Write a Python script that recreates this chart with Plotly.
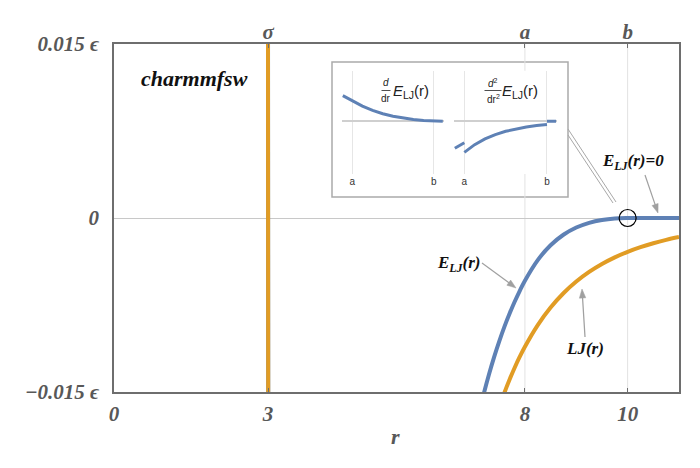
import math
import plotly.graph_objects as go

# ---------------- data ----------------
# Lennard-Jones curve LJ(r): steep crossing near sigma, then the tail
lj_r = [2.996, 3.0, 3.004, None,
        7.5, 7.6, 7.7, 7.8, 7.9, 8.0, 8.25, 8.5, 8.75, 9.0, 9.25, 9.5, 9.75,
        10.0, 10.25, 10.5, 10.75, 11.0]
lj_v = [0.0324, 0.0, -0.0316, None,
        -0.016317, -0.015075, -0.013942, -0.012906, -0.011960, -0.011093,
        -0.009227, -0.007717, -0.006487, -0.005479, -0.004650, -0.003963,
        -0.003392, -0.002914, -0.002513, -0.002175, -0.001889, -0.001645]

# force-switched potential E_LJ(r)
e_r = [2.996, 3.0, 3.004, None,
       7.1, 7.2, 7.3, 7.4, 7.5, 7.6, 7.7, 7.8, 7.9, 8.0, 8.25, 8.5, 8.75,
       9.0, 9.25, 9.5, 9.75, 10.0, 10.5, 11.0]
e_v = [0.0381, 0.0057, -0.0259, None,
       -0.016946, -0.015134, -0.013489, -0.011992, -0.010630, -0.009388,
       -0.008255, -0.007219, -0.006272, -0.005406, -0.003630, -0.002351,
       -0.001446, -0.000824, -0.000414, -0.000165, -0.000037, 0.0, 0.0, 0.0]

# inset 1: first derivative
d1_r = [7.77, 7.85, 7.92, 8.0, 8.25, 8.5, 8.75, 9.0, 9.25, 9.5, 9.75,
        10.0, 10.1, 10.22]
d1_v = [0.010165, 0.009465, 0.008898, 0.008296, 0.006015, 0.004298,
        0.003003, 0.002025, 0.001287, 0.000730, 0.000312, 0.0, 0.0, 0.0]

# inset 2: second derivative (discontinuous at a and b)
d2_r = [7.77, 7.85, 7.92, 8.0, None,
        8.0, 8.25, 8.5, 8.75, 9.0, 9.25, 9.5, 9.75, 10.0, None,
        10.0, 10.1, 10.22]
d2_v = [-0.009105, -0.008395, -0.007824, -0.007225, None,
        -0.010494, -0.00788, -0.00594, -0.00448, -0.00338, -0.00255,
        -0.00192, -0.00144, -0.00107, None,
        0.0, 0.0, 0.0]

bottom_tick_vals = [0, 3, 8, 10]
bottom_tick_text = ["0", "3", "8", "10"]
top_tick_vals = [3, 8, 10]
top_tick_text = ["σ", "a", "b"]
left_tick_vals = [-0.015, 0, 0.015]
left_tick_text = ["−0.015 ϵ", "0", "0.015 ϵ"]
inset_tick_vals = [8, 10]
inset_tick_text = ["a", "b"]

# ---------------- layout helpers ----------------
# The page body has an 8px margin, so the figure is drawn offset by 8px.
OFF = 8
W, H = 700, 468
# target plot area on screen: x 114..679, y 44..392
L = 114 - OFF
T = 44 - OFF
R = W - (679 - OFF)
B = H - (392 - OFF)
PW, PH = W - L - R, H - T - B


def fx(p):
    """screen x pixel -> paper fraction"""
    return (p - OFF - L) / PW


def fy(p):
    """screen y pixel -> paper fraction"""
    return (H - B - (p - OFF)) / PH


BLUE = "#5E81B5"
ORANGE = "#E19C24"
GRAY_TXT = "#585858"
FRAME = "#6e6e6e"
ARROW = "#a0a0a0"
SERIF = "Liberation Serif"
SANS = "Liberation Sans"

fig = go.Figure()

fig.add_trace(go.Scatter(x=e_r, y=e_v, mode="lines", line=dict(color=BLUE, width=4, shape="spline"),
                         connectgaps=False, hoverinfo="skip", showlegend=False))
fig.add_trace(go.Scatter(x=lj_r, y=lj_v, mode="lines", line=dict(color=ORANGE, width=4, shape="spline"),
                         connectgaps=False, hoverinfo="skip", showlegend=False))
# invisible trace for the top axis
fig.add_trace(go.Scatter(x=top_tick_vals, y=[0] * len(top_tick_vals), xaxis="x4", yaxis="y",
                         mode="markers", marker=dict(opacity=0), hoverinfo="skip", showlegend=False))
# insets
fig.add_trace(go.Scatter(x=d1_r, y=d1_v, xaxis="x2", yaxis="y2", mode="lines",
                         line=dict(color=BLUE, width=3), hoverinfo="skip", showlegend=False))
fig.add_trace(go.Scatter(x=d2_r, y=d2_v, xaxis="x3", yaxis="y3", mode="lines", connectgaps=False,
                         line=dict(color=BLUE, width=3), hoverinfo="skip", showlegend=False))

tick_font = dict(family=SERIF, size=21, color=GRAY_TXT)

fig.update_layout(
    width=W, height=H,
    margin=dict(l=L, r=R, t=T, b=B, pad=0),
    paper_bgcolor="white", plot_bgcolor="white",
    xaxis=dict(range=[0, 11], domain=[0, 1], anchor="y",
               tickvals=bottom_tick_vals,
               ticktext=[f"<b><i>{t}</i></b>" for t in bottom_tick_text],
               tickfont=tick_font, ticks="inside", ticklen=4, tickcolor=FRAME,
               showline=True, mirror=True, linecolor=FRAME, linewidth=1.5,
               showgrid=False, zeroline=False, ticklabelstandoff=2),
    xaxis4=dict(range=[0, 11], overlaying="x", side="top", anchor="y",
                tickvals=top_tick_vals,
                ticktext=[f"<b><i>{t}</i></b>" for t in top_tick_text],
                tickfont=tick_font, ticks="inside", ticklen=4, tickcolor=FRAME,
                showline=False, showgrid=False, zeroline=False),
    yaxis=dict(range=[-0.015, 0.015], domain=[0, 1], anchor="x",
               tickvals=left_tick_vals,
               ticktext=[f"<b><i>{t}</i></b>" for t in left_tick_text],
               tickfont=tick_font, ticks="", showline=True, mirror=True,
               linecolor=FRAME, linewidth=1.5, showgrid=False,
               zeroline=True, zerolinecolor="#c8c8c8", zerolinewidth=1,
               ticklabelstandoff=9),
    xaxis2=dict(range=[7.75, 10.25], domain=[fx(342), fx(444)], anchor="y2",
                tickvals=inset_tick_vals, ticktext=inset_tick_text,
                tickfont=dict(family=SANS, size=10, color="#333"), ticks="",
                showgrid=True, gridcolor="#e6e6e6", gridwidth=1,
                showline=False, zeroline=False),
    yaxis2=dict(range=[-0.0208, 0.0200], domain=[fy(174), fy(70.7)], anchor="x2",
                showticklabels=False, showgrid=False, showline=False,
                zeroline=True, zerolinecolor="#cfcfcf", zerolinewidth=1.5),
    xaxis3=dict(range=[7.75, 10.25], domain=[fx(454), fx(557.3)], anchor="y3",
                tickvals=inset_tick_vals, ticktext=inset_tick_text,
                tickfont=dict(family=SANS, size=10, color="#333"), ticks="",
                showgrid=True, gridcolor="#e6e6e6", gridwidth=1,
                showline=False, zeroline=False),
    yaxis3=dict(range=[-0.0178, 0.0171], domain=[fy(174), fy(70.7)], anchor="x3",
                showticklabels=False, showgrid=False, showline=False,
                zeroline=True, zerolinecolor="#cfcfcf", zerolinewidth=1.5),
)

shapes = []
# vertical reference lines at a and b in the main plot
for xv in [8, 10]:
    shapes.append(dict(type="line", xref="x", yref="y", x0=xv, x1=xv, y0=-0.015, y1=0.015,
                       line=dict(color="#e2e2e2", width=1), layer="below"))
# inset frame
shapes.append(dict(type="rect", xref="paper", yref="paper", x0=fx(332), x1=fx(568),
                   y0=fy(197), y1=fy(62), fillcolor="white",
                   line=dict(color="#ababab", width=1.5), layer="below"))
# leader lines from inset to circle
shapes.append(dict(type="line", xref="paper", yref="paper", x0=fx(568), y0=fy(129),
                   x1=fx(616), y1=fy(202), line=dict(color="#a8a8a8", width=1)))
shapes.append(dict(type="line", xref="paper", yref="paper", x0=fx(568), y0=fy(135),
                   x1=fx(613), y1=fy(203), line=dict(color="#a8a8a8", width=1)))
# circle around r=b
shapes.append(dict(type="circle", xref="x", yref="y", xsizemode="pixel", ysizemode="pixel",
                   xanchor=10, yanchor=0, x0=-8.5, x1=8.5, y0=-8.5, y1=8.5,
                   line=dict(color="black", width=1.2)))
# fraction bars in inset titles
shapes.append(dict(type="line", xref="paper", yref="paper", x0=fx(381.5), x1=fx(390.5),
                   y0=fy(90.5), y1=fy(90.5), line=dict(color="#222", width=0.8)))
shapes.append(dict(type="line", xref="paper", yref="paper", x0=fx(484.5), x1=fx(501.5),
                   y0=fy(90.5), y1=fy(90.5), line=dict(color="#222", width=0.8)))


def arrow(tx, ty, hx, hy, head_len=9.0, head_half=3.2):
    """gray pointer line with a filled triangular head (screen pixel coords)"""
    dx, dy = hx - tx, hy - ty
    n = math.hypot(dx, dy)
    ux, uy = dx / n, dy / n
    bx, by = hx - ux * head_len, hy - uy * head_len
    px_, py_ = -uy, ux
    shapes.append(dict(type="line", xref="paper", yref="paper",
                       x0=fx(tx), y0=fy(ty), x1=fx(bx + ux * 1.5), y1=fy(by + uy * 1.5),
                       line=dict(color=ARROW, width=1.2)))
    p1 = (bx + px_ * head_half, by + py_ * head_half)
    p2 = (bx - px_ * head_half, by - py_ * head_half)
    path = (f"M {fx(hx)} {fy(hy)} L {fx(p1[0])} {fy(p1[1])} "
            f"L {fx(p2[0])} {fy(p2[1])} Z")
    shapes.append(dict(type="path", xref="paper", yref="paper", path=path,
                       fillcolor=ARROW, line=dict(color=ARROW, width=0.5)))


arrow(482, 263, 516, 288)
arrow(585, 337, 582, 289)
arrow(645, 175, 658, 213)

fig.update_layout(shapes=shapes)


def txt(xp, yp, text, size, color="#111", family=SERIF):
    fig.add_annotation(x=fx(xp), y=fy(yp), xref="paper", yref="paper", text=text,
                       showarrow=False, xanchor="center", yanchor="middle",
                       font=dict(family=family, size=size, color=color))


txt(194, 78, "<b><i>charmmfsw</i></b>", 22)
txt(459, 264, "<b><i>E<sub>LJ</sub>(r)</i></b>", 17)
txt(585, 348, "<b><i>LJ(r)</i></b>", 17)
txt(633, 162, "<b><i>E<sub>LJ</sub>(r)=0</i></b>", 17)
txt(395, 436, "<b><i>r</i></b>", 22, color=GRAY_TXT)

# inset titles
txt(386, 83, "<i>d</i>", 10, color="#222", family=SANS)
txt(386, 98.5, "dr", 10, color="#222", family=SANS)
txt(411, 91.5, "<i>E</i><sub>LJ</sub>(r)", 15, color="#222", family=SANS)
txt(493, 83, "<i>d</i><sup>2</sup>", 10, color="#222", family=SANS)
txt(493, 98.5, "dr<sup>2</sup>", 10, color="#222", family=SANS)
txt(520, 91.5, "<i>E</i><sub>LJ</sub>(r)", 15, color="#222", family=SANS)

fig.write_html("out.html")
